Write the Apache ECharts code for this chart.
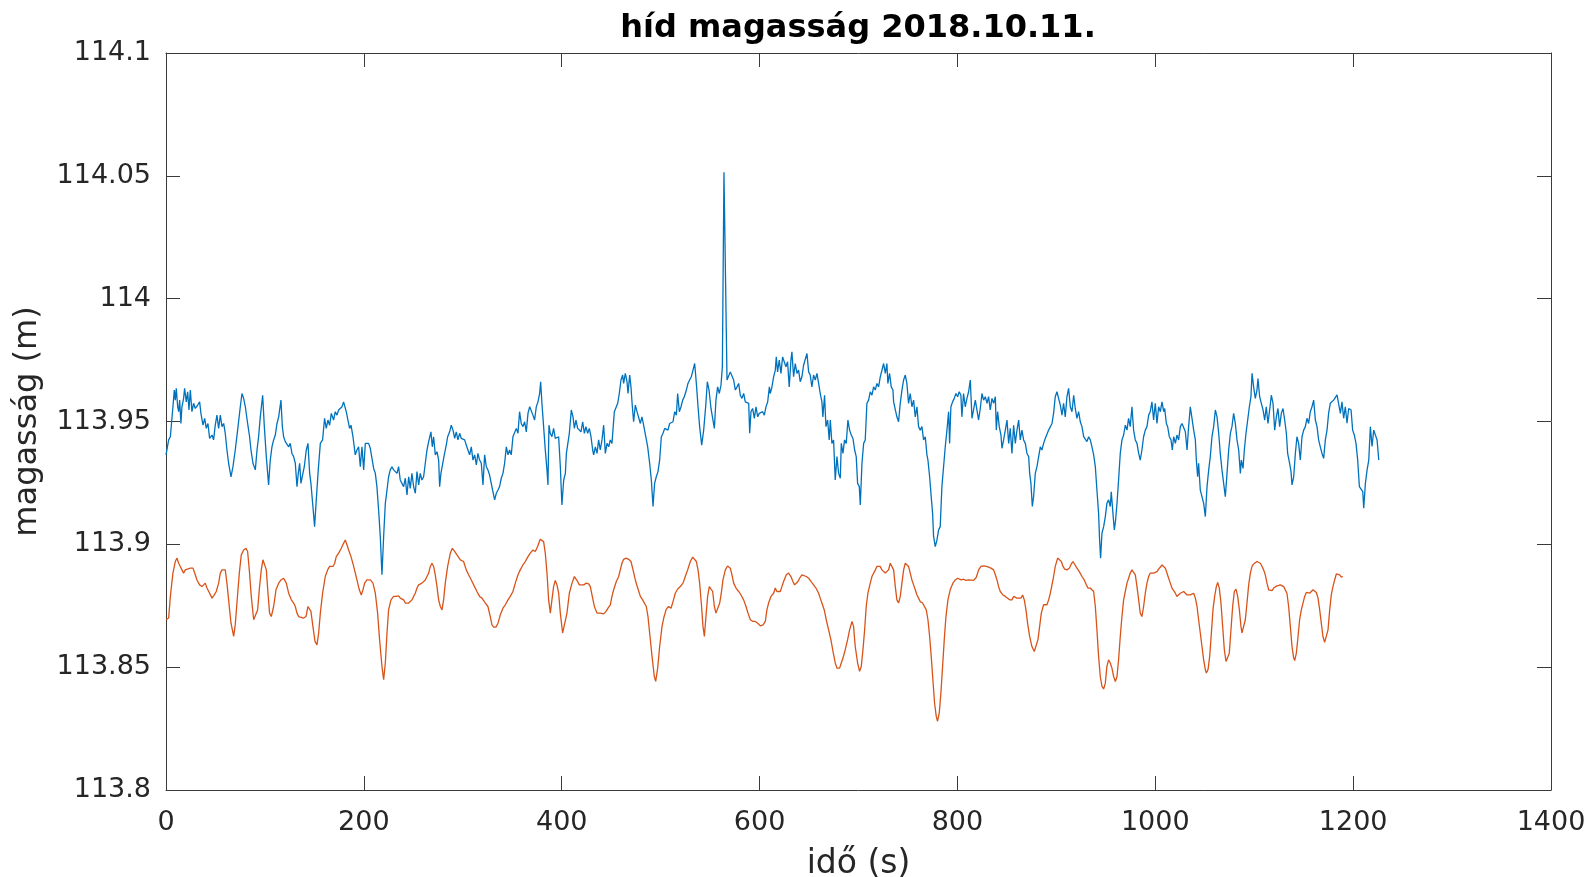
<!DOCTYPE html>
<html>
<head>
<meta charset="utf-8">
<title>híd magasság 2018.10.11.</title>
<script src="https://cdn.jsdelivr.net/npm/echarts@6/dist/echarts.min.js"></script>
<style>
  html, body { margin: 0; padding: 0; background: #ffffff; }
  #chart { width: 1589px; height: 877px; }
</style>
</head>
<body>
<div id="chart"></div>
<script>
// Axis ranges and tick steps
const xTicks = [0, 200, 400, 600, 800, 1000, 1200, 1400];
const yTicks = [113.8, 113.85, 113.9, 113.95, 114, 114.05, 114.1];

// Measured bridge height, first series: [time (s), height (m)]
const heightA = [
  [0, 113.9364], [2.7, 113.9425], [4.4, 113.9438], [7.0, 113.9560], [8.4, 113.9628], [9.4, 113.9587],
  [10.4, 113.9635], [11.8, 113.9560], [12.8, 113.9540], [13.8, 113.9587], [15.1, 113.9492], [16.1, 113.9560],
  [17.8, 113.9594], [18.8, 113.9635], [20.5, 113.9580], [21.9, 113.9621], [23.2, 113.9547], [24.6, 113.9628],
  [26.2, 113.9540], [27.9, 113.9574], [29.6, 113.9553], [32.0, 113.9567], [34.0, 113.9580], [35.3, 113.9533],
  [37.4, 113.9485], [39.1, 113.9513], [40.7, 113.9472], [42.4, 113.9492], [44.1, 113.9431], [46.5, 113.9445],
  [48.1, 113.9425], [49.8, 113.9485], [51.5, 113.9526], [53.2, 113.9472], [54.9, 113.9526], [56.6, 113.9479],
  [58.3, 113.9492], [59.9, 113.9452], [61.6, 113.9384], [63.3, 113.9330], [65.7, 113.9275], [67.7, 113.9316],
  [70.0, 113.9384], [72.4, 113.9465], [75.1, 113.9560], [76.8, 113.9614], [78.5, 113.9594], [80.2, 113.9560],
  [82.5, 113.9492], [84.5, 113.9438], [85.9, 113.9384], [87.9, 113.9330], [90.3, 113.9303], [92.0, 113.9384],
  [93.6, 113.9438], [95.3, 113.9519], [97.7, 113.9607], [99.4, 113.9479], [101.4, 113.9357], [103.7, 113.9242],
  [105.4, 113.9343], [107.1, 113.9397], [108.8, 113.9425], [110.5, 113.9445], [112.2, 113.9492], [113.9, 113.9519],
  [116.2, 113.9587], [117.6, 113.9479], [118.9, 113.9438], [120.6, 113.9418], [122.3, 113.9425], [124.0, 113.9397],
  [125.6, 113.9411], [127.3, 113.9370], [129.0, 113.9357], [130.7, 113.9330], [132.4, 113.9235], [133.7, 113.9289],
  [135.1, 113.9330], [136.4, 113.9248], [138.4, 113.9289], [139.8, 113.9316], [141.8, 113.9384], [143.5, 113.9411],
  [145.2, 113.9289], [146.5, 113.9248], [148.5, 113.9154], [150.2, 113.9072], [151.9, 113.9181], [153.9, 113.9303],
  [156.0, 113.9411], [158.3, 113.9425], [160.3, 113.9513], [162.0, 113.9472], [163.7, 113.9506], [165.4, 113.9485],
  [167.1, 113.9533], [169.4, 113.9506], [171.1, 113.9540], [172.8, 113.9526], [174.5, 113.9547], [176.2, 113.9540],
  [177.9, 113.9560], [179.5, 113.9580], [181.2, 113.9587], [182.2, 113.9540], [183.9, 113.9506], [185.6, 113.9472],
  [187.0, 113.9485], [189.0, 113.9438], [191.3, 113.9364], [193.0, 113.9384], [194.7, 113.9397], [196.4, 113.9316],
  [198.1, 113.9397], [199.8, 113.9303], [201.5, 113.9411], [203.1, 113.9418], [204.8, 113.9411], [206.5, 113.9391],
  [208.2, 113.9350], [209.9, 113.9309], [211.6, 113.9289], [213.2, 113.9235], [214.9, 113.9140], [216.6, 113.9032],
  [218.3, 113.8876], [220.0, 113.9032], [221.7, 113.9167], [223.4, 113.9221], [225.0, 113.9275], [226.7, 113.9303],
  [228.4, 113.9316], [230.1, 113.9303], [231.8, 113.9309], [233.5, 113.9289], [235.1, 113.9316], [236.8, 113.9262],
  [238.5, 113.9248], [240.2, 113.9235], [241.9, 113.9269], [243.6, 113.9201], [245.3, 113.9275], [246.9, 113.9228],
  [248.6, 113.9289], [250.3, 113.9235], [252.0, 113.9208], [253.7, 113.9296], [255.4, 113.9242], [257.0, 113.9289],
  [258.7, 113.9262], [260.4, 113.9275], [262.1, 113.9330], [263.8, 113.9384], [265.5, 113.9418], [267.8, 113.9458],
  [269.2, 113.9397], [270.5, 113.9438], [272.2, 113.9364], [273.9, 113.9377], [275.6, 113.9343], [276.6, 113.9235],
  [277.9, 113.9289], [279.6, 113.9296], [281.3, 113.9364], [283.3, 113.9404], [284.7, 113.9438], [286.7, 113.9458],
  [288.4, 113.9485], [290.1, 113.9465], [291.8, 113.9431], [293.4, 113.9458], [295.1, 113.9425], [296.8, 113.9452],
  [298.5, 113.9431], [300.2, 113.9438], [301.9, 113.9425], [303.5, 113.9404], [305.2, 113.9384], [306.9, 113.9364],
  [308.6, 113.9397], [310.3, 113.9343], [312.0, 113.9364], [313.7, 113.9323], [315.3, 113.9370], [317.0, 113.9343],
  [318.7, 113.9330], [320.4, 113.9242], [322.1, 113.9364], [323.8, 113.9316], [325.4, 113.9303], [327.1, 113.9282],
  [328.8, 113.9275], [330.5, 113.9214], [332.2, 113.9181], [333.9, 113.9208], [335.6, 113.9221], [337.2, 113.9235],
  [338.9, 113.9269], [340.6, 113.9289], [342.3, 113.9330], [344.0, 113.9397], [345.7, 113.9364], [347.3, 113.9384],
  [349.0, 113.9364], [350.7, 113.9438], [352.4, 113.9431], [354.1, 113.9472], [355.8, 113.9452], [357.4, 113.9540],
  [359.1, 113.9492], [360.8, 113.9479], [362.5, 113.9499], [364.2, 113.9458], [365.9, 113.9533], [367.6, 113.9560],
  [369.2, 113.9567], [370.9, 113.9526], [372.6, 113.9506], [374.3, 113.9560], [376.0, 113.9580], [377.7, 113.9614],
  [378.7, 113.9662], [380.0, 113.9574], [381.7, 113.9479], [383.4, 113.9384], [385.1, 113.9303], [386.1, 113.9242],
  [387.1, 113.9485], [388.4, 113.9452], [390.1, 113.9438], [391.8, 113.9472], [393.5, 113.9431], [395.2, 113.9431],
  [396.9, 113.9438], [398.6, 113.9316], [400.2, 113.9160], [402.0, 113.9262], [403.7, 113.9289], [404.7, 113.9370],
  [406.0, 113.9364], [407.7, 113.9452], [409.7, 113.9547], [411.4, 113.9519], [412.8, 113.9472], [414.4, 113.9506],
  [416.1, 113.9472], [417.8, 113.9479], [419.5, 113.9458], [421.2, 113.9499], [422.9, 113.9452], [424.5, 113.9479],
  [426.2, 113.9452], [427.9, 113.9472], [429.6, 113.9438], [431.3, 113.9384], [432.3, 113.9364], [434.0, 113.9397],
  [435.7, 113.9370], [437.3, 113.9425], [439.0, 113.9384], [440.7, 113.9425], [442.4, 113.9485], [444.1, 113.9370],
  [445.8, 113.9411], [447.5, 113.9397], [449.1, 113.9425], [450.8, 113.9411], [451.8, 113.9465], [453.2, 113.9540],
  [454.9, 113.9547], [456.6, 113.9574], [458.2, 113.9614], [459.9, 113.9669], [461.6, 113.9689], [462.6, 113.9655],
  [464.3, 113.9696], [466.0, 113.9662], [467.0, 113.9614], [468.7, 113.9689], [470.0, 113.9641], [471.4, 113.9560],
  [472.7, 113.9499], [474.4, 113.9567], [476.1, 113.9540], [477.8, 113.9547], [479.5, 113.9492], [481.1, 113.9519],
  [482.8, 113.9485], [484.5, 113.9492], [486.9, 113.9397], [488.9, 113.9330], [490.6, 113.9262], [492.3, 113.9154],
  [493.9, 113.9248], [495.6, 113.9275], [497.3, 113.9296], [499.0, 113.9343], [500.7, 113.9438], [502.4, 113.9452],
  [504.1, 113.9472], [505.7, 113.9479], [507.4, 113.9465], [509.1, 113.9492], [510.8, 113.9485], [512.5, 113.9499],
  [514.2, 113.9540], [515.9, 113.9526], [517.2, 113.9614], [518.9, 113.9540], [520.6, 113.9560], [522.3, 113.9587],
  [523.9, 113.9601], [526.0, 113.9628], [527.6, 113.9655], [529.3, 113.9669], [531.0, 113.9682], [532.7, 113.9709],
  [534.4, 113.9736], [536.1, 113.9655], [537.8, 113.9560], [539.4, 113.9479], [541.5, 113.9404], [543.5, 113.9465],
  [545.5, 113.9560], [547.2, 113.9662], [548.9, 113.9628], [550.9, 113.9553], [552.6, 113.9513], [554.3, 113.9472],
  [555.9, 113.9587], [557.6, 113.9641], [559.3, 113.9614], [561.0, 113.9648], [562.4, 113.9723], [564.0, 114.0515],
  [567.1, 113.9669], [568.7, 113.9675], [570.4, 113.9702], [572.1, 113.9696], [573.8, 113.9669], [575.5, 113.9628],
  [577.2, 113.9641], [578.9, 113.9655], [580.5, 113.9607], [582.2, 113.9594], [583.9, 113.9614], [585.6, 113.9580],
  [587.3, 113.9587], [589.0, 113.9574], [590.0, 113.9452], [591.3, 113.9540], [593.0, 113.9553], [594.7, 113.9513],
  [596.4, 113.9560], [598.1, 113.9519], [599.7, 113.9533], [601.4, 113.9526], [603.1, 113.9540], [604.8, 113.9526],
  [606.5, 113.9560], [608.2, 113.9580], [609.9, 113.9641], [610.8, 113.9614], [612.5, 113.9641], [614.2, 113.9682],
  [615.9, 113.9709], [616.9, 113.9763], [618.2, 113.9702], [619.9, 113.9750], [621.6, 113.9696], [623.3, 113.9763],
  [625.0, 113.9756], [626.6, 113.9723], [628.3, 113.9743], [630.0, 113.9641], [631.7, 113.9750], [632.7, 113.9784],
  [634.4, 113.9682], [636.1, 113.9736], [637.8, 113.9696], [639.4, 113.9709], [641.1, 113.9662], [642.8, 113.9682],
  [644.5, 113.9729], [646.2, 113.9723], [647.9, 113.9777], [649.6, 113.9702], [651.2, 113.9689], [652.9, 113.9641],
  [654.6, 113.9689], [656.3, 113.9669], [658.0, 113.9696], [659.7, 113.9655], [661.3, 113.9614], [663.0, 113.9580],
  [664.0, 113.9519], [665.7, 113.9607], [667.1, 113.9479], [668.8, 113.9506], [670.4, 113.9425], [671.5, 113.9506],
  [673.1, 113.9411], [674.8, 113.9425], [676.5, 113.9262], [678.2, 113.9357], [679.9, 113.9289], [681.6, 113.9269],
  [682.6, 113.9411], [684.3, 113.9370], [685.9, 113.9425], [687.6, 113.9411], [689.3, 113.9506], [691.0, 113.9465],
  [692.7, 113.9445], [694.4, 113.9431], [696.1, 113.9384], [697.7, 113.9357], [699.1, 113.9248], [700.8, 113.9235],
  [701.8, 113.9160], [703.5, 113.9330], [705.2, 113.9411], [706.8, 113.9425], [708.5, 113.9574], [710.2, 113.9587],
  [711.9, 113.9621], [713.6, 113.9607], [715.3, 113.9641], [717.0, 113.9628], [718.6, 113.9655], [720.3, 113.9641],
  [722.0, 113.9682], [723.7, 113.9675], [725.4, 113.9736], [727.1, 113.9696], [728.7, 113.9736], [729.7, 113.9655],
  [731.4, 113.9696], [733.1, 113.9641], [734.8, 113.9628], [735.5, 113.9580], [737.2, 113.9587], [738.8, 113.9519],
  [740.5, 113.9499], [742.2, 113.9574], [743.9, 113.9628], [745.6, 113.9669], [747.3, 113.9689], [748.9, 113.9655],
  [750.6, 113.9574], [752.3, 113.9614], [754.0, 113.9560], [755.7, 113.9587], [757.4, 113.9519], [759.1, 113.9560],
  [760.7, 113.9479], [762.4, 113.9465], [764.1, 113.9479], [765.8, 113.9425], [767.5, 113.9438], [769.2, 113.9364],
  [770.2, 113.9343], [771.9, 113.9275], [773.5, 113.9194], [774.9, 113.9126], [775.9, 113.9032], [777.6, 113.8991],
  [779.3, 113.9018], [781.0, 113.9059], [782.6, 113.9072], [784.3, 113.9235], [786.0, 113.9316], [787.7, 113.9397],
  [789.4, 113.9465], [791.1, 113.9540], [792.1, 113.9411], [793.4, 113.9560], [795.1, 113.9580], [796.8, 113.9594],
  [798.5, 113.9614], [800.2, 113.9601], [801.8, 113.9621], [803.5, 113.9607], [804.5, 113.9519], [806.2, 113.9614],
  [807.9, 113.9560], [809.6, 113.9594], [811.3, 113.9621], [813.0, 113.9669], [814.7, 113.9513], [816.4, 113.9506],
  [818.1, 113.9587], [819.7, 113.9547], [821.4, 113.9506], [823.1, 113.9553], [824.8, 113.9614], [826.5, 113.9587],
  [828.2, 113.9601], [829.9, 113.9574], [831.5, 113.9601], [833.2, 113.9547], [834.9, 113.9594], [836.6, 113.9574],
  [838.3, 113.9601], [839.3, 113.9465], [840.6, 113.9540], [842.3, 113.9479], [844.0, 113.9445], [845.0, 113.9391],
  [846.7, 113.9425], [848.4, 113.9465], [850.1, 113.9506], [851.8, 113.9411], [853.4, 113.9472], [855.1, 113.9370],
  [856.8, 113.9485], [858.5, 113.9411], [860.2, 113.9465], [861.9, 113.9506], [863.5, 113.9425], [865.2, 113.9465],
  [866.9, 113.9425], [868.6, 113.9411], [870.3, 113.9370], [872.0, 113.9357], [873.0, 113.9289], [874.3, 113.9248],
  [875.7, 113.9154], [877.0, 113.9194], [878.7, 113.9289], [880.4, 113.9316], [882.1, 113.9357], [883.8, 113.9397],
  [885.4, 113.9384], [887.1, 113.9411], [888.8, 113.9431], [890.5, 113.9438], [892.2, 113.9465], [893.9, 113.9472],
  [895.6, 113.9492], [897.2, 113.9533], [898.9, 113.9601], [900.6, 113.9621], [902.3, 113.9628], [904.0, 113.9567],
  [905.7, 113.9526], [907.3, 113.9574], [909.0, 113.9519], [910.7, 113.9601], [912.4, 113.9635], [914.1, 113.9560],
  [915.8, 113.9540], [917.5, 113.9607], [919.1, 113.9553], [920.8, 113.9513], [922.5, 113.9540], [924.2, 113.9499],
  [925.9, 113.9479], [927.6, 113.9438], [929.2, 113.9445], [930.9, 113.9418], [932.6, 113.9438], [934.3, 113.9425],
  [936.0, 113.9397], [937.7, 113.9364], [939.4, 113.9316], [941.0, 113.9221], [942.7, 113.9126], [943.7, 113.9018],
  [944.7, 113.8943], [946.1, 113.9045], [947.8, 113.9072], [949.5, 113.9113], [951.1, 113.9167], [952.8, 113.9181],
  [954.5, 113.9154], [955.5, 113.9214], [957.2, 113.9126], [958.6, 113.9059], [959.9, 113.9099], [961.3, 113.9167],
  [962.9, 113.9262], [964.6, 113.9370], [966.3, 113.9425], [968.0, 113.9445], [969.7, 113.9485], [971.4, 113.9465],
  [973.0, 113.9513], [974.7, 113.9479], [976.4, 113.9560], [978.1, 113.9465], [979.8, 113.9425], [981.5, 113.9411],
  [983.2, 113.9370], [984.8, 113.9343], [986.5, 113.9384], [988.2, 113.9438], [989.9, 113.9465], [991.6, 113.9479],
  [993.3, 113.9526], [994.9, 113.9540], [996.6, 113.9580], [998.3, 113.9506], [1000.0, 113.9574], [1001.7, 113.9492],
  [1003.4, 113.9560], [1005.1, 113.9540], [1006.8, 113.9580], [1008.5, 113.9540], [1009.5, 113.9553], [1011.2, 113.9492],
  [1012.5, 113.9479], [1014.2, 113.9438], [1015.9, 113.9425], [1017.2, 113.9384], [1018.6, 113.9438], [1020.3, 113.9411],
  [1021.9, 113.9445], [1023.6, 113.9425], [1025.3, 113.9479], [1027.0, 113.9492], [1028.7, 113.9499], [1030.4, 113.9458],
  [1032.1, 113.9384], [1033.7, 113.9479], [1035.4, 113.9560], [1037.1, 113.9513], [1038.8, 113.9465], [1040.5, 113.9425],
  [1041.5, 113.9343], [1042.8, 113.9275], [1043.8, 113.9330], [1045.5, 113.9221], [1047.2, 113.9194], [1048.9, 113.9167],
  [1050.6, 113.9113], [1052.3, 113.9235], [1054.0, 113.9303], [1055.6, 113.9357], [1057.3, 113.9438], [1059.0, 113.9479],
  [1060.7, 113.9547], [1062.4, 113.9519], [1064.1, 113.9452], [1065.7, 113.9370], [1067.4, 113.9303], [1069.1, 113.9248],
  [1070.8, 113.9194], [1072.5, 113.9289], [1074.2, 113.9384], [1075.9, 113.9452], [1077.5, 113.9479], [1079.2, 113.9533],
  [1080.9, 113.9492], [1082.6, 113.9425], [1084.3, 113.9384], [1086.0, 113.9289], [1087.0, 113.9343], [1088.7, 113.9309],
  [1090.0, 113.9384], [1091.7, 113.9452], [1093.4, 113.9506], [1095.1, 113.9560], [1096.7, 113.9601], [1097.8, 113.9696],
  [1099.4, 113.9641], [1101.1, 113.9594], [1102.8, 113.9628], [1103.8, 113.9675], [1105.5, 113.9601], [1107.2, 113.9574],
  [1108.9, 113.9547], [1110.6, 113.9506], [1112.2, 113.9560], [1113.9, 113.9492], [1115.6, 113.9547], [1117.3, 113.9607],
  [1119.0, 113.9574], [1120.7, 113.9465], [1122.4, 113.9519], [1124.0, 113.9553], [1125.7, 113.9479], [1127.4, 113.9533],
  [1129.1, 113.9553], [1130.8, 113.9506], [1132.5, 113.9452], [1133.8, 113.9370], [1135.5, 113.9336], [1137.2, 113.9296],
  [1138.2, 113.9242], [1139.9, 113.9275], [1141.6, 113.9370], [1143.2, 113.9438], [1144.9, 113.9411], [1146.6, 113.9343],
  [1148.3, 113.9438], [1150.0, 113.9465], [1151.7, 113.9479], [1153.3, 113.9513], [1155.0, 113.9492], [1156.7, 113.9540],
  [1158.4, 113.9560], [1160.1, 113.9587], [1161.8, 113.9506], [1163.5, 113.9479], [1165.1, 113.9425], [1166.8, 113.9397],
  [1168.5, 113.9370], [1170.2, 113.9350], [1171.9, 113.9425], [1173.6, 113.9465], [1175.2, 113.9533], [1176.9, 113.9574],
  [1180.3, 113.9587], [1183.7, 113.9608], [1185.4, 113.9601], [1187.1, 113.9533], [1188.7, 113.9580], [1190.4, 113.9513],
  [1192.1, 113.9560], [1193.8, 113.9493], [1195.5, 113.9553], [1197.9, 113.9547], [1199.5, 113.9465], [1201.2, 113.9445],
  [1202.9, 113.9411], [1204.6, 113.9343], [1206.3, 113.9235], [1208.0, 113.9228], [1209.7, 113.9215], [1210.7, 113.9147],
  [1212.4, 113.9249], [1214.1, 113.9303], [1215.8, 113.9343], [1217.4, 113.9479], [1219.1, 113.9398], [1220.8, 113.9465],
  [1222.5, 113.9459], [1224.2, 113.9425], [1225.9, 113.9343]
];

// Measured bridge height, second series: [time (s), height (m)]
const heightB = [
  [0, 113.8693], [2.7, 113.8700], [4.4, 113.8788], [7.0, 113.8883], [9.4, 113.8930], [11.1, 113.8944],
  [12.8, 113.8923], [14.5, 113.8910], [16.1, 113.8896], [17.8, 113.8883], [19.5, 113.8896], [21.2, 113.8903],
  [24.6, 113.8903], [27.3, 113.8903], [29.0, 113.8883], [31.3, 113.8855], [34.0, 113.8835], [36.4, 113.8828],
  [38.0, 113.8835], [39.7, 113.8842], [41.4, 113.8822], [44.1, 113.8801], [46.5, 113.8781], [48.8, 113.8794],
  [50.8, 113.8808], [53.2, 113.8842], [54.9, 113.8883], [56.6, 113.8896], [58.3, 113.8889], [59.9, 113.8896],
  [61.6, 113.8842], [63.3, 113.8774], [65.7, 113.8679], [68.4, 113.8625], [70.0, 113.8672], [71.7, 113.8761],
  [74.1, 113.8883], [76.1, 113.8957], [78.5, 113.8977], [80.8, 113.8984], [82.5, 113.8971], [84.2, 113.8896],
  [86.2, 113.8788], [88.6, 113.8693], [90.6, 113.8686], [92.6, 113.8733], [94.3, 113.8815], [96.3, 113.8896],
  [98.0, 113.8937], [99.7, 113.8944], [101.4, 113.8896], [103.1, 113.8801], [104.7, 113.8720], [106.4, 113.8706],
  [108.8, 113.8747], [111.2, 113.8815], [113.9, 113.8842], [116.2, 113.8855], [118.9, 113.8862], [121.6, 113.8842],
  [124.0, 113.8801], [126.7, 113.8774], [129.0, 113.8761], [130.7, 113.8747], [132.4, 113.8720], [134.1, 113.8706],
  [135.7, 113.8700], [139.1, 113.8700], [141.5, 113.8706], [143.5, 113.8747], [145.2, 113.8754], [146.5, 113.8727],
  [148.5, 113.8666], [150.6, 113.8605], [152.6, 113.8591], [154.3, 113.8639], [156.0, 113.8720], [158.3, 113.8801],
  [161.0, 113.8869], [163.4, 113.8896], [165.4, 113.8910], [167.1, 113.8916], [168.8, 113.8910], [170.5, 113.8923],
  [172.1, 113.8950], [174.5, 113.8964], [177.2, 113.8984], [179.5, 113.9004], [181.2, 113.9018], [182.9, 113.8998],
  [184.6, 113.8977], [187.0, 113.8950], [189.7, 113.8910], [193.0, 113.8855], [195.4, 113.8815], [197.4, 113.8794],
  [199.1, 113.8815], [200.8, 113.8842], [203.1, 113.8855], [206.5, 113.8855], [209.2, 113.8842], [211.6, 113.8801],
  [213.9, 113.8720], [215.9, 113.8612], [218.3, 113.8503], [220.0, 113.8449], [221.7, 113.8517], [223.4, 113.8639],
  [225.0, 113.8733], [227.4, 113.8774], [230.1, 113.8788], [232.8, 113.8788], [235.1, 113.8790], [236.8, 113.8781],
  [238.5, 113.8788], [240.2, 113.8774], [241.9, 113.8761], [243.6, 113.8754], [245.3, 113.8761], [246.9, 113.8758],
  [248.6, 113.8774], [250.3, 113.8788], [252.0, 113.8801], [253.7, 113.8822], [255.4, 113.8835], [257.0, 113.8828],
  [258.7, 113.8842], [260.4, 113.8849], [262.1, 113.8855], [263.8, 113.8862], [265.5, 113.8883], [267.2, 113.8910],
  [268.8, 113.8923], [270.5, 113.8910], [272.2, 113.8876], [273.9, 113.8828], [275.6, 113.8774], [277.3, 113.8747],
  [279.0, 113.8733], [280.6, 113.8774], [282.3, 113.8842], [284.7, 113.8910], [287.4, 113.8964], [289.4, 113.8984],
  [291.8, 113.8971], [294.1, 113.8957], [297.5, 113.8937], [300.8, 113.8930], [303.5, 113.8896], [305.9, 113.8876],
  [308.6, 113.8855], [311.0, 113.8835], [314.3, 113.8808], [317.0, 113.8788], [319.4, 113.8781], [322.8, 113.8761],
  [325.4, 113.8747], [327.8, 113.8706], [329.5, 113.8672], [331.2, 113.8663], [333.5, 113.8663], [335.6, 113.8679],
  [337.9, 113.8713], [340.6, 113.8740], [343.0, 113.8754], [345.7, 113.8774], [348.0, 113.8788], [350.7, 113.8808],
  [353.1, 113.8842], [355.8, 113.8876], [358.1, 113.8896], [360.8, 113.8916], [363.2, 113.8930], [365.9, 113.8950],
  [368.2, 113.8964], [370.9, 113.8977], [373.3, 113.8971], [375.6, 113.8991], [378.3, 113.9021], [380.0, 113.9025],
  [381.7, 113.9011], [383.4, 113.8964], [385.1, 113.8883], [386.8, 113.8774], [388.5, 113.8720], [390.1, 113.8774],
  [391.8, 113.8828], [393.5, 113.8853], [395.2, 113.8835], [396.9, 113.8801], [398.6, 113.8720], [400.9, 113.8639],
  [402.6, 113.8632], [405.3, 113.8720], [407.7, 113.8801], [410.4, 113.8842], [412.8, 113.8869], [414.4, 113.8876],
  [416.1, 113.8849], [417.8, 113.8835], [419.5, 113.8842], [422.2, 113.8835], [424.9, 113.8842], [427.2, 113.8839],
  [428.9, 113.8828], [430.6, 113.8794], [433.0, 113.8747], [435.7, 113.8720], [439.0, 113.8720], [442.4, 113.8717],
  [444.8, 113.8727], [446.8, 113.8740], [449.1, 113.8754], [450.8, 113.8788], [452.5, 113.8815], [455.2, 113.8849],
  [457.6, 113.8869], [459.2, 113.8896], [460.9, 113.8923], [462.6, 113.8939], [465.0, 113.8944], [467.7, 113.8939],
  [470.0, 113.8930], [472.1, 113.8896], [474.4, 113.8855], [476.8, 113.8822], [479.5, 113.8788], [481.8, 113.8774],
  [483.5, 113.8767], [485.5, 113.8747], [487.2, 113.8706], [488.9, 113.8639], [491.3, 113.8544], [493.6, 113.8462],
  [495.0, 113.8442], [497.0, 113.8496], [499.0, 113.8584], [501.4, 113.8666], [503.1, 113.8700], [505.7, 113.8736],
  [508.1, 113.8747], [510.5, 113.8740], [512.5, 113.8767], [514.8, 113.8801], [517.2, 113.8818], [519.9, 113.8828],
  [522.6, 113.8842], [524.9, 113.8869], [527.3, 113.8896], [530.0, 113.8930], [532.4, 113.8948], [534.0, 113.8950],
  [536.1, 113.8930], [537.8, 113.8896], [539.4, 113.8842], [541.1, 113.8761], [542.8, 113.8666], [544.2, 113.8625],
  [545.8, 113.8706], [547.5, 113.8788], [549.2, 113.8828], [550.9, 113.8831], [552.6, 113.8808], [554.3, 113.8747],
  [555.9, 113.8720], [557.6, 113.8723], [559.7, 113.8761], [561.3, 113.8801], [563.0, 113.8855], [565.4, 113.8896],
  [567.7, 113.8912], [570.4, 113.8903], [572.1, 113.8876], [573.8, 113.8842], [576.2, 113.8822], [578.9, 113.8808],
  [581.2, 113.8794], [583.9, 113.8774], [586.3, 113.8747], [588.3, 113.8720], [590.7, 113.8693], [593.3, 113.8686],
  [595.7, 113.8686], [598.1, 113.8679], [600.8, 113.8668], [603.5, 113.8672], [605.8, 113.8686], [607.4, 113.8733],
  [609.1, 113.8761], [611.5, 113.8788], [614.2, 113.8801], [615.9, 113.8822], [617.5, 113.8808], [619.2, 113.8801],
  [620.9, 113.8808], [622.6, 113.8828], [624.3, 113.8849], [627.0, 113.8876], [629.3, 113.8883], [631.7, 113.8869],
  [633.7, 113.8849], [635.4, 113.8835], [637.1, 113.8828], [638.8, 113.8849], [640.5, 113.8862], [642.8, 113.8876],
  [644.5, 113.8869], [647.2, 113.8869], [649.6, 113.8862], [651.9, 113.8849], [654.6, 113.8835], [657.0, 113.8822],
  [659.7, 113.8801], [661.3, 113.8781], [663.0, 113.8761], [665.4, 113.8733], [667.4, 113.8693], [669.8, 113.8652],
  [672.1, 113.8612], [674.2, 113.8564], [676.5, 113.8517], [678.2, 113.8496], [680.9, 113.8496], [682.6, 113.8517],
  [684.3, 113.8537], [686.6, 113.8571], [689.0, 113.8612], [691.0, 113.8652], [693.4, 113.8686], [695.0, 113.8666],
  [696.7, 113.8584], [699.1, 113.8517], [701.1, 113.8483], [702.8, 113.8503], [704.5, 113.8571], [706.2, 113.8652],
  [707.8, 113.8747], [709.5, 113.8801], [711.9, 113.8842], [713.6, 113.8869], [715.3, 113.8876], [717.0, 113.8896],
  [718.6, 113.8910], [720.3, 113.8916], [722.0, 113.8910], [723.7, 113.8896], [725.4, 113.8889], [727.1, 113.8883],
  [728.7, 113.8876], [730.4, 113.8896], [732.1, 113.8923], [733.8, 113.8930], [735.5, 113.8896], [737.2, 113.8828],
  [738.8, 113.8774], [740.5, 113.8761], [742.2, 113.8788], [743.9, 113.8842], [745.6, 113.8896], [747.3, 113.8923],
  [748.9, 113.8930], [750.6, 113.8910], [752.3, 113.8883], [754.0, 113.8855], [755.7, 113.8835], [757.4, 113.8815],
  [759.1, 113.8794], [760.7, 113.8781], [762.4, 113.8767], [764.8, 113.8761], [766.8, 113.8754], [768.5, 113.8733],
  [770.2, 113.8693], [771.9, 113.8625], [773.5, 113.8544], [775.2, 113.8449], [776.9, 113.8354], [778.6, 113.8300],
  [779.9, 113.8280], [781.6, 113.8313], [783.3, 113.8395], [785.0, 113.8503], [786.7, 113.8612], [788.4, 113.8706],
  [790.4, 113.8774], [792.7, 113.8815], [795.4, 113.8842], [797.8, 113.8855], [800.2, 113.8862], [801.8, 113.8869],
  [803.9, 113.8855], [806.2, 113.8858], [808.6, 113.8853], [811.3, 113.8855], [813.0, 113.8855], [816.4, 113.8853],
  [819.1, 113.8866], [821.4, 113.8896], [823.8, 113.8910], [826.5, 113.8912], [829.2, 113.8910], [831.5, 113.8907],
  [833.9, 113.8903], [836.6, 113.8896], [838.3, 113.8876], [840.0, 113.8855], [841.6, 113.8828], [843.3, 113.8808],
  [846.0, 113.8794], [848.4, 113.8788], [850.1, 113.8781], [852.8, 113.8774], [855.1, 113.8774], [856.8, 113.8788],
  [858.5, 113.8790], [860.2, 113.8781], [861.9, 113.8774], [864.2, 113.8781], [865.9, 113.8794], [867.6, 113.8774],
  [869.3, 113.8733], [870.9, 113.8679], [873.0, 113.8625], [875.3, 113.8584], [877.7, 113.8564], [879.7, 113.8571],
  [881.4, 113.8612], [883.1, 113.8666], [884.8, 113.8720], [887.1, 113.8754], [888.8, 113.8747], [890.5, 113.8754],
  [892.2, 113.8774], [893.9, 113.8801], [895.6, 113.8835], [897.2, 113.8869], [898.9, 113.8910], [901.3, 113.8944],
  [903.3, 113.8950], [905.0, 113.8930], [906.7, 113.8910], [908.4, 113.8899], [910.7, 113.8896], [913.1, 113.8903],
  [915.1, 113.8920], [916.8, 113.8930], [918.5, 113.8923], [920.8, 113.8903], [923.2, 113.8889], [925.9, 113.8869],
  [928.2, 113.8855], [930.3, 113.8835], [931.9, 113.8822], [934.3, 113.8822], [936.0, 113.8815], [937.7, 113.8808],
  [939.4, 113.8747], [941.0, 113.8652], [942.7, 113.8544], [944.4, 113.8462], [946.1, 113.8422], [947.8, 113.8411],
  [949.5, 113.8435], [951.1, 113.8503], [952.8, 113.8530], [954.5, 113.8517], [956.2, 113.8496], [957.9, 113.8462],
  [959.6, 113.8442], [961.3, 113.8462], [962.9, 113.8530], [964.6, 113.8625], [966.3, 113.8706], [968.0, 113.8774],
  [969.7, 113.8808], [971.4, 113.8842], [973.0, 113.8862], [974.7, 113.8883], [976.4, 113.8896], [978.1, 113.8899],
  [979.8, 113.8876], [981.5, 113.8828], [983.2, 113.8774], [984.8, 113.8720], [986.5, 113.8706], [988.2, 113.8747],
  [989.9, 113.8801], [991.6, 113.8842], [993.3, 113.8869], [994.9, 113.8883], [996.6, 113.8889], [998.3, 113.8883],
  [1000.0, 113.8876], [1001.7, 113.8889], [1003.4, 113.8899], [1005.1, 113.8903], [1006.8, 113.8916], [1008.5, 113.8910],
  [1010.2, 113.8903], [1011.8, 113.8883], [1013.5, 113.8862], [1015.2, 113.8842], [1016.9, 113.8822], [1018.6, 113.8815],
  [1020.3, 113.8801], [1021.9, 113.8788], [1023.6, 113.8794], [1025.3, 113.8801], [1027.0, 113.8808], [1028.7, 113.8808],
  [1030.4, 113.8801], [1032.1, 113.8794], [1033.7, 113.8801], [1035.4, 113.8794], [1037.1, 113.8801], [1038.8, 113.8801],
  [1040.5, 113.8781], [1042.2, 113.8747], [1043.8, 113.8693], [1045.5, 113.8639], [1047.2, 113.8584], [1048.9, 113.8530],
  [1050.6, 113.8490], [1051.6, 113.8476], [1053.3, 113.8490], [1055.0, 113.8544], [1056.7, 113.8639], [1058.3, 113.8733],
  [1060.0, 113.8788], [1061.7, 113.8828], [1063.1, 113.8845], [1064.7, 113.8822], [1066.4, 113.8761], [1068.1, 113.8666],
  [1069.8, 113.8571], [1071.5, 113.8523], [1073.2, 113.8517], [1074.8, 113.8557], [1076.5, 113.8652], [1078.2, 113.8747],
  [1079.9, 113.8808], [1081.6, 113.8818], [1083.3, 113.8788], [1085.0, 113.8733], [1086.6, 113.8666], [1087.6, 113.8639],
  [1089.3, 113.8645], [1091.0, 113.8693], [1092.7, 113.8761], [1094.4, 113.8835], [1096.1, 113.8883], [1097.8, 113.8910],
  [1099.4, 113.8920], [1101.1, 113.8923], [1102.8, 113.8930], [1104.5, 113.8937], [1106.2, 113.8923], [1107.9, 113.8910],
  [1109.5, 113.8896], [1111.2, 113.8876], [1112.9, 113.8842], [1114.6, 113.8815], [1116.3, 113.8808], [1118.0, 113.8812],
  [1119.7, 113.8822], [1121.3, 113.8828], [1123.0, 113.8831], [1124.7, 113.8828], [1126.4, 113.8835], [1128.1, 113.8828],
  [1129.8, 113.8828], [1131.4, 113.8822], [1133.1, 113.8801], [1134.8, 113.8747], [1136.5, 113.8666], [1138.2, 113.8584],
  [1139.9, 113.8537], [1140.9, 113.8527], [1142.6, 113.8557], [1144.3, 113.8625], [1145.9, 113.8693], [1147.6, 113.8733],
  [1149.3, 113.8761], [1151.0, 113.8788], [1152.7, 113.8804], [1154.4, 113.8801], [1156.0, 113.8801], [1157.7, 113.8804],
  [1159.4, 113.8815], [1161.1, 113.8818], [1162.8, 113.8804], [1164.5, 113.8781], [1166.2, 113.8733], [1167.8, 113.8679],
  [1169.5, 113.8625], [1171.2, 113.8601], [1172.9, 113.8605], [1174.6, 113.8652], [1176.3, 113.8733], [1177.9, 113.8794],
  [1179.6, 113.8828], [1181.3, 113.8855], [1183.0, 113.8880], [1184.7, 113.8883], [1186.4, 113.8876], [1188.1, 113.8866],
  [1189.7, 113.8869]
];

const textColor = '#262626';
const lineColor = '#3a3a3a';
const fontFamily = '"DejaVu Sans", "Liberation Sans", sans-serif';

const chart = echarts.init(document.getElementById('chart'), null, { renderer: 'canvas' });

const xMin = xTicks[0], xMax = xTicks[xTicks.length - 1], xStep = xTicks[1] - xTicks[0];
const yMin = yTicks[0], yMax = yTicks[yTicks.length - 1], yStep = 0.05;

const commonX = {
  type: 'value', min: xMin, max: xMax, interval: xStep,
  axisLine: { show: true, onZero: false, lineStyle: { color: lineColor, width: 1 } },
  axisTick: { show: true, inside: true, length: 14, lineStyle: { color: lineColor, width: 1 } },
  splitLine: { show: false }
};
const commonY = {
  type: 'value', min: yMin, max: yMax, interval: yStep,
  axisLine: { show: true, onZero: false, lineStyle: { color: lineColor, width: 1 } },
  axisTick: { show: true, inside: true, length: 14, lineStyle: { color: lineColor, width: 1 } },
  splitLine: { show: false }
};

chart.setOption({
  animation: false,
  backgroundColor: '#ffffff',
  title: {
    text: 'híd magasság 2018.10.11.',
    left: 853, top: 8, textAlign: 'center',
    textStyle: { fontFamily, fontSize: 32, fontWeight: 'bold', color: '#000000' }
  },
  grid: { left: 166, right: 38, top: 53, bottom: 87, containLabel: false, outerBoundsMode: 'none' },
  xAxis: [
    Object.assign({}, commonX, {
      position: 'bottom',
      name: 'idő (s)', nameLocation: 'middle', nameGap: 58,
      nameTextStyle: { fontFamily, fontSize: 33, color: textColor },
      axisLabel: { show: true, margin: 19, fontFamily, fontSize: 27, color: textColor,
        formatter: v => String(v) }
    }),
    Object.assign({}, commonX, {
      position: 'top',
      axisLabel: { show: false }
    })
  ],
  yAxis: [
    Object.assign({}, commonY, {
      position: 'left',
      name: 'magasság (m)', nameLocation: 'middle', nameGap: 122,
      nameTextStyle: { fontFamily, fontSize: 32, color: textColor },
      axisLabel: { show: true, margin: 15, fontFamily, fontSize: 27, color: textColor,
        formatter: v => String(+v.toFixed(2)) }
    }),
    Object.assign({}, commonY, {
      position: 'right',
      axisLabel: { show: false }
    })
  ],
  series: [
    {
      type: 'line', xAxisIndex: 0, yAxisIndex: 0,
      data: heightA, showSymbol: false, symbol: 'none',
      lineStyle: { color: '#0072BD', width: 1.3 },
      silent: true
    },
    {
      type: 'line', xAxisIndex: 0, yAxisIndex: 0,
      data: heightB, showSymbol: false, symbol: 'none',
      lineStyle: { color: '#D95319', width: 1.3 },
      silent: true
    }
  ]
});
</script>
</body>
</html>
